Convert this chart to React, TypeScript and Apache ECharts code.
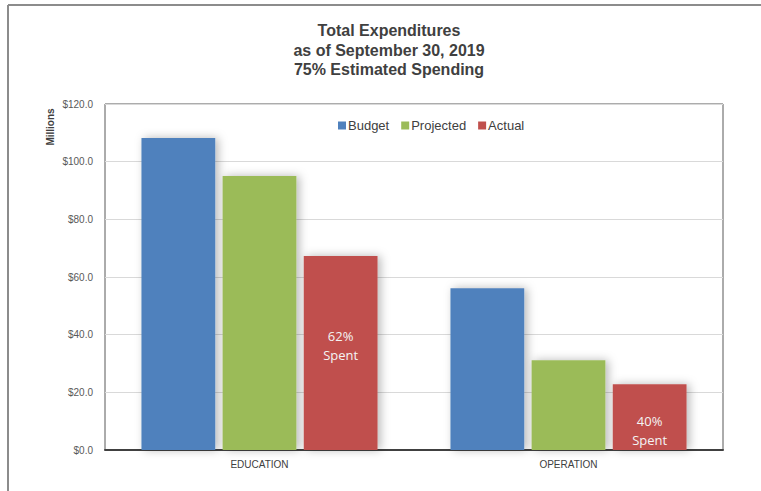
import React, { useEffect, useRef } from "react";
import * as echarts from "echarts";

const categories = ["EDUCATION", "OPERATION"];
const seriesNames = ["Budget", "Projected", "Actual"];
const budget = [108.2, 56.1];
const projected = [95.0, 31.1];
const actual = [67.3, 22.8];
const spentLabels = ["62%\nSpent", "40%\nSpent"];
const yTicks = [0, 20, 40, 60, 80, 100, 120];

const colors = ["#4f81bd", "#9bbb59", "#c0504d"];

export default function App() {
  const ref = useRef<HTMLDivElement>(null);
  useEffect(() => {
    if (!ref.current) return;
    const chart = echarts.init(ref.current, undefined, { renderer: "svg" });
    const labelOffsets = [[0, -7], [0, 13]];
    const shadow = {
      shadowBlur: 10,
      shadowColor: "rgba(0,0,0,0.28)",
      shadowOffsetX: 3,
      shadowOffsetY: 0,
    };
    const values = [budget, projected, actual];
    chart.setOption({
      animation: false,
      backgroundColor: "#ffffff",
      title: {
        text: "Total Expenditures\nas of September 30, 2019\n75% Estimated Spending",
        left: 384,
        textAlign: "center",
        top: 16,
        textStyle: {
          fontFamily: "Liberation Sans",
          fontWeight: "bold",
          fontSize: 16,
          lineHeight: 19.5,
          color: "#404040",
        },
      },
      legend: {
        data: seriesNames,
        left: 333,
        top: 114,
        itemWidth: 8,
        itemHeight: 8,
        itemGap: 12,
        icon: "rect",
        textStyle: {
          fontFamily: "Liberation Sans",
          fontSize: 13,
          color: "#404040",
          padding: [0, 0, 0, -3],
        },
      },
      grid: {
        left: 105,
        top: 104,
        width: 618,
        height: 346,
        show: true,
        borderColor: "#595959",
        borderWidth: 1,
        backgroundColor: "transparent",
      },
      xAxis: {
        type: "category",
        data: categories,
        axisTick: { show: false },
        axisLine: { lineStyle: { color: "#404040", width: 2 } },
        axisLabel: {
          fontFamily: "Liberation Sans",
          fontSize: 10,
          color: "#404040",
          margin: 9,
        },
      },
      yAxis: {
        type: "value",
        min: yTicks[0],
        max: yTicks[yTicks.length - 1],
        interval: 20,
        axisLine: { show: false },
        axisTick: { show: false },
        splitLine: { lineStyle: { color: "#d9d9d9", width: 1 } },
        axisLabel: {
          fontFamily: "Liberation Sans",
          fontSize: 10,
          color: "#595959",
          margin: 12,
          formatter: (v: number) => "$" + v.toFixed(1),
        },
      },
      series: seriesNames.map((name, si) => ({
        name,
        type: "bar",
        barGap: "10%",
        barCategoryGap: "23.6%",
        itemStyle: { color: colors[si], ...shadow },
        data: values[si].map((v, i) =>
          si === 2
            ? {
                value: v,
                label: {
                  show: true,
                  position: "inside",
                  offset: labelOffsets[i],
                  formatter: spentLabels[i],
                  fontFamily: "Open Sans",
                  fontSize: 13,
                  lineHeight: 19,
                  color: "#f4f4f4",
                  align: "center",
                },
              }
            : v
        ),
      })),
      graphic: [
        {
          type: "line",
          shape: { x1: 8, y1: 5, x2: 761, y2: 5 },
          style: { stroke: "#8c8c8c", lineWidth: 2 },
        },
        {
          type: "line",
          shape: { x1: 8, y1: 5, x2: 8, y2: 491 },
          style: { stroke: "#8c8c8c", lineWidth: 2 },
        },
        {
          type: "text",
          x: 50,
          y: 127,
          rotation: Math.PI / 2,
          style: {
            text: "Millions",
            fontFamily: "Liberation Sans",
            fontWeight: "bold",
            fontSize: 10,
            fill: "#404040",
            textAlign: "center",
            textVerticalAlign: "middle",
          },
        },
      ],
    });
    return () => chart.dispose();
  }, []);
  return (
    <div
      ref={ref}
      style={{ position: "absolute", left: 0, top: 0, width: 761, height: 491 }}
    />
  );
}
